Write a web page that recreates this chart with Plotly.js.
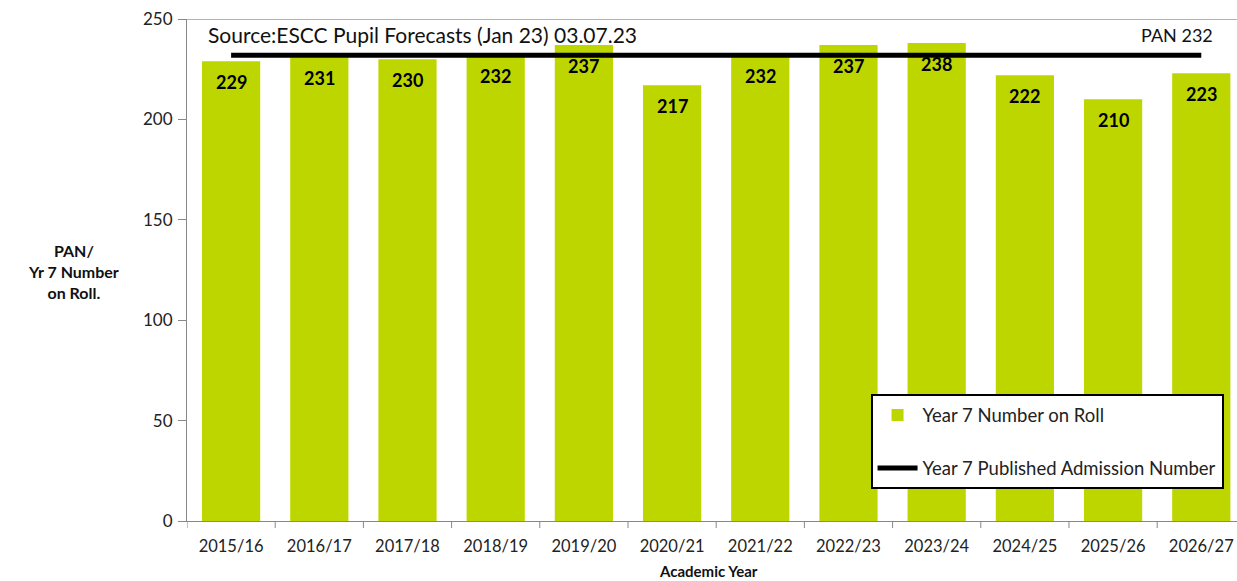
<!DOCTYPE html>
<html><head><meta charset="utf-8">
<script src="https://cdn.plot.ly/plotly-3.0.1.min.js"></script>
<style>html,body{margin:0;padding:0;background:#fff}#c{width:1237px;height:581px}</style>
</head><body><div id="c"></div>
<script>
const categories = ["2015/16","2016/17","2017/18","2018/19","2019/20","2020/21","2021/22","2022/23","2023/24","2024/25","2025/26","2026/27"];
const rollValues = [229,231,230,232,237,217,232,237,238,222,210,223];
const panValues = [232,232,232,232,232,232,232,232,232,232,232,232];
const yTicks = [0,50,100,150,200,250];

const FONT = "Lato, 'Open Sans', sans-serif";
const barTrace = {
  type: 'bar', x: categories, y: rollValues, name: 'Year 7 Number on Roll',
  marker: {color: '#bed600'}, legendgroup: 'a', hoverinfo: 'skip'
};
const lineTrace = {
  type: 'scatter', mode: 'lines', x: categories, y: panValues,
  name: 'Year 7 Published Admission Number', line: {color: '#000', width: 5},
  legendgroup: 'b', hoverinfo: 'skip'
};
const labelAnns = categories.map((c,i)=>({
  x: c, y: rollValues[i], xref:'x', yref:'y', text: '<b>'+rollValues[i]+'</b>',
  showarrow:false, yanchor:'middle', yshift:-21, font:{family:FONT, size:18, color:'#000'}
}));
const layout = {
  width: 1237, height: 581,
  margin: {l:187, r:0, t:19, b:60},
  paper_bgcolor:'#fff', plot_bgcolor:'#fff',
  bargap: 0.34,
  showlegend: true,
  legend: {x: 0.651, y: 0.252, xanchor:'left', yanchor:'top', bordercolor:'#000', borderwidth:2,
    bgcolor:'#fff', font:{family:FONT, size:18.5, color:'#222'}, traceorder:'grouped', tracegroupgap: 26, itemwidth:40},
  xaxis: {type:'category', range:[-0.5, 11.405], showgrid:false, showline:true, linecolor:'#888', linewidth:1,
    ticks:'', ticklabelstandoff: 10, tickfont:{family:FONT, size:16.5, color:'#222'}, fixedrange:true},
  yaxis: {range:[0,250], tickvals:yTicks, showgrid:false, showline:true, linecolor:'#888', linewidth:1,
    ticks:'outside', ticklen:8, tickcolor:'#888', ticklabelstandoff: 2, tickfont:{family:FONT, size:17, color:'#222'}, zeroline:false, fixedrange:true},
  shapes: [
    {type:'line', xref:'paper', yref:'y', x0:0, x1:1, y0:250, y1:250, line:{color:'#999', width:1.5}}
  ].concat(categories.map((c,i)=>({type:'line', xref:'x', yref:'paper', x0:i-0.5, x1:i-0.5, y0:0, y1:-0.014, line:{color:'#888', width:1}}))),
  annotations: labelAnns.concat([
    {xref:'paper', yref:'paper', x:0.018, y:0.998, xanchor:'left', yanchor:'top', showarrow:false,
      text:'Source:ESCC Pupil Forecasts (Jan 23) 03.07.23', font:{family:FONT, size:21, color:'#111'}},
    {xref:'paper', yref:'paper', x:0.907, y:0.995, xanchor:'left', yanchor:'top', showarrow:false, bgcolor:'#fff',
      text:'PAN 232', font:{family:FONT, size:18, color:'#111'}},
    {xref:'paper', yref:'paper', x:-0.108, y:0.498, xanchor:'center', yanchor:'middle', showarrow:false,
      text:'<b>PAN/<br>Yr 7 Number<br>on Roll.</b>', font:{family:FONT, size:16, color:'#111'}},
    {xref:'paper', yref:'paper', x:0.497, y:-0.1, xanchor:'center', yanchor:'middle', showarrow:false,
      text:'<b>Academic Year</b>', font:{family:FONT, size:15, color:'#111'}}
  ])
};
Plotly.newPlot('c', [barTrace, lineTrace], layout, {displayModeBar:false, staticPlot:true});
</script></body></html>
